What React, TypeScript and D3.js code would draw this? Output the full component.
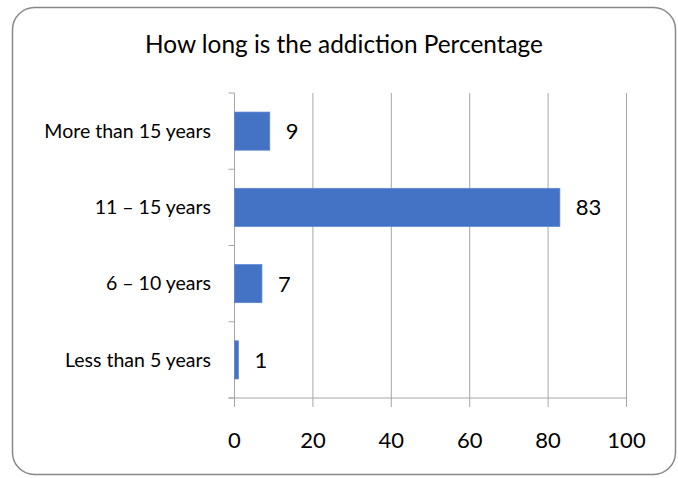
import React from "react";
import * as d3 from "d3";

// Survey categories, top to bottom, and their percentages
const categories = ["More than 15 years", "11 – 15 years", "6 – 10 years", "Less than 5 years"];
const percentages = [9, 83, 7, 1];
const xTicks = [0, 20, 40, 60, 80, 100];
const title = "How long is the addiction Percentage";

const W = 678;
const H = 478;
const FONT = "Lato, 'Open Sans', sans-serif";

export default function App() {
  const left = 234.5;
  const right = 626.5;
  const top = 93;
  const bottom = 398;

  const x = d3.scaleLinear().domain([0, 100]).range([left, right]);
  const y = d3.scaleBand<string>().domain(categories).range([top, bottom]).paddingInner(0.5).paddingOuter(0.25);
  const bandStep = y.step();
  const boundaries = d3.range(categories.length + 1).map((i) => top + i * bandStep);

  const gridColor = "#a6a6a6";

  return (
    <svg
      width={W}
      height={H}
      style={{ position: "absolute", left: 0, top: 0, background: "#fff" }}
      fontFamily={FONT}
    >
      <rect x={12.5} y={7.5} width={663} height={467} rx={22} ry={22} fill="#fff" stroke="#888" strokeWidth={1.5} />

      <text x={344} y={53} textAnchor="middle" fontSize={24.4} fill="#000">
        {title}
      </text>

      {/* vertical gridlines */}
      {xTicks.slice(1).map((t) => (
        <line key={"g" + t} x1={x(t)} x2={x(t)} y1={top} y2={bottom} stroke={gridColor} strokeWidth={1} />
      ))}

      {/* category axis */}
      <line x1={left} x2={left} y1={top} y2={bottom} stroke={gridColor} strokeWidth={1} />
      {boundaries.map((b, i) => (
        <line key={"yt" + i} x1={left - 6} x2={left} y1={b} y2={b} stroke={gridColor} strokeWidth={1} />
      ))}

      {/* value axis */}
      <line x1={left - 6} x2={right} y1={bottom} y2={bottom} stroke={gridColor} strokeWidth={1} />
      {xTicks.map((t) => (
        <g key={"xt" + t}>
          <line x1={x(t)} x2={x(t)} y1={bottom} y2={bottom + 9} stroke={gridColor} strokeWidth={1} />
          <text x={x(t)} y={448} textAnchor="middle" fontSize={22} fill="#000">
            {t}
          </text>
        </g>
      ))}

      {/* bars */}
      {categories.map((c, i) => (
        <rect
          key={"b" + c}
          x={x(0)}
          y={y(c)!}
          width={x(percentages[i]) - x(0)}
          height={y.bandwidth()}
          fill="#4472c4"
          stroke="#5b86d2"
          strokeWidth={0.75}
        />
      ))}

      {/* category labels */}
      {categories.map((c) => (
        <text
          key={"c" + c}
          x={211}
          y={y(c)! + y.bandwidth() / 2}
          dy="0.35em"
          textAnchor="end"
          fontSize={19.5}
          fill="#000"
        >
          {c}
        </text>
      ))}

      {/* value labels */}
      {categories.map((c, i) => (
        <text
          key={"v" + c}
          x={x(percentages[i]) + 16}
          y={y(c)! + y.bandwidth() / 2}
          dy="0.36em"
          textAnchor="start"
          fontSize={22}
          fill="#000"
        >
          {percentages[i]}
        </text>
      ))}
    </svg>
  );
}
